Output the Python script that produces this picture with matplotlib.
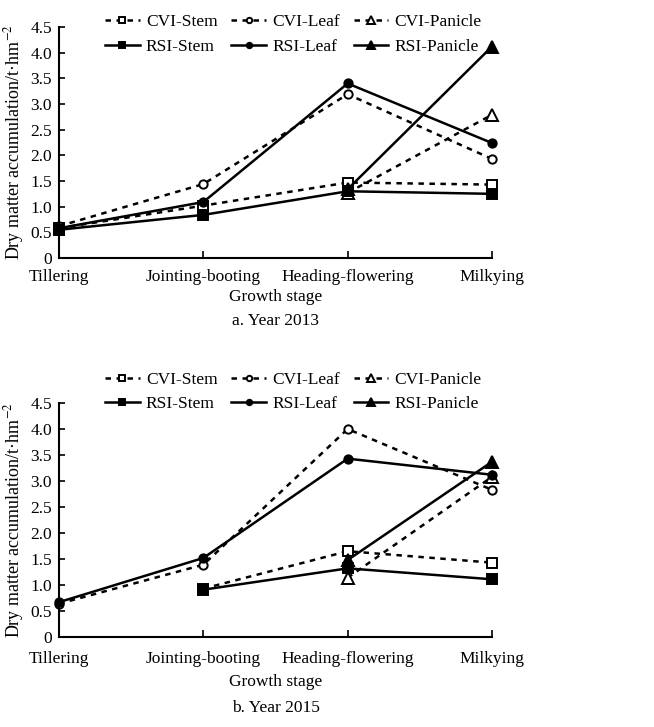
import matplotlib
matplotlib.use("Agg")
import matplotlib.pyplot as plt
import numpy as np

plt.rcParams['font.family'] = ['Liberation Serif', 'DejaVu Serif']
plt.rcParams['mathtext.fontset'] = 'stix'

stages = ["Tillering", "Jointing-booting", "Heading-flowering", "Milkying"]
yticks = [0, 0.5, 1.0, 1.5, 2.0, 2.5, 3.0, 3.5, 4.0, 4.5]
ytick_labels = ["0", "0.5", "1.0", "1.5", "2.0", "2.5", "3.0", "3.5", "4.0", "4.5"]

# Year 2013 (None = not measured at that stage)
cvi_stem_2013 = [0.58, 1.02, 1.47, 1.43]
cvi_leaf_2013 = [0.62, 1.44, 3.19, 1.93]
cvi_panicle_2013 = [None, None, 1.27, 2.79]
rsi_stem_2013 = [0.55, 0.84, 1.30, 1.25]
rsi_leaf_2013 = [0.58, 1.09, 3.40, 2.24]
rsi_panicle_2013 = [None, None, 1.34, 4.12]

# Year 2015
cvi_stem_2015 = [None, 0.93, 1.65, 1.43]
cvi_leaf_2015 = [0.64, 1.39, 4.00, 2.83]
cvi_panicle_2015 = [None, None, 1.14, 3.08]
rsi_stem_2015 = [None, 0.91, 1.32, 1.11]
rsi_leaf_2015 = [0.67, 1.52, 3.43, 3.12]
rsi_panicle_2015 = [None, None, 1.48, 3.37]

series_names = ["CVI-Stem", "CVI-Leaf", "CVI-Panicle", "RSI-Stem", "RSI-Leaf", "RSI-Panicle"]
dash = (0, (2.2, 2.2))
styles = [
    dict(ls=dash, marker='s', mfc='white', ms=7),
    dict(ls=dash, marker='o', mfc='white', ms=6),
    dict(ls=dash, marker='^', mfc='white', ms=8),
    dict(ls='-', marker='s', mfc='black', ms=7),
    dict(ls='-', marker='o', mfc='black', ms=6),
    dict(ls='-', marker='^', mfc='black', ms=8),
]

W, H = 654, 727


def draw_panel(ax, data, caption, bottom_px, height_px, tick_pad, xlabel_px, caption_px, legend_px):
    x = np.arange(len(stages))
    handles = []
    for name, vals, st in zip(series_names, data, styles):
        v = np.array([np.nan if d is None else d for d in vals], dtype=float)
        mask = ~np.isnan(v)
        h, = ax.plot(x[mask], v[mask], color='black', lw=1.8, mec='black',
                     mew=1.4, label=name, clip_on=False, **st)
        handles.append(h)

    ax.set_xlim(0, 3)
    ax.set_ylim(0, 4.5)
    ax.set_yticks(yticks)
    ax.set_yticklabels(ytick_labels)
    ax.set_xticks(x)
    ax.set_xticklabels(stages)
    ax.tick_params(axis='y', direction='in', length=4, width=1.2, labelsize=12.5, pad=5)
    ax.tick_params(axis='x', direction='in', length=5, width=1.2, labelsize=12.5, pad=tick_pad)
    for s in ['top', 'right']:
        ax.spines[s].set_visible(False)
    for s in ['left', 'bottom']:
        ax.spines[s].set_linewidth(1.5)

    ax.set_ylabel("Dry matter accumulation/t\u00b7hm$^{-2}$", fontsize=13)
    ax.yaxis.set_label_coords(-0.076, 0.5)

    # x label and caption placed by their pixel distance below the axis
    ax.set_xlabel("Growth stage", fontsize=12.5)
    ax.xaxis.label.set_va('center')
    ax.xaxis.set_label_coords(0.5, -(xlabel_px - bottom_px) / height_px)
    ax.text(0.5, -(caption_px - bottom_px) / height_px, caption, transform=ax.transAxes,
            ha='center', va='center', fontsize=12.5)

    # legend is filled column by column: CVI on the first row, RSI on the second
    order = [0, 3, 1, 4, 2, 5]
    ax.legend(handles=[handles[i] for i in order], ncol=3, loc='center left',
              bbox_to_anchor=(105 / W, 1 - legend_px / H), bbox_transform=ax.figure.transFigure,
              frameon=False, fontsize=12.5, handlelength=2.0, columnspacing=0.8,
              labelspacing=0.5, handletextpad=0.35, markerscale=0.65, borderpad=0,
              borderaxespad=0)


fig = plt.figure(figsize=(W / 100, H / 100), dpi=100)
ax1 = fig.add_axes([59 / W, 1 - 258 / H, 433 / W, 231 / H])
ax2 = fig.add_axes([59 / W, 1 - 637 / H, 433 / W, 234 / H])

draw_panel(ax1, [cvi_stem_2013, cvi_leaf_2013, cvi_panicle_2013,
                 rsi_stem_2013, rsi_leaf_2013, rsi_panicle_2013], "a. Year 2013",
           258, 231, 8, 297, 321, 34.5)
draw_panel(ax2, [cvi_stem_2015, cvi_leaf_2015, cvi_panicle_2015,
                 rsi_stem_2015, rsi_leaf_2015, rsi_panicle_2015], "b. Year 2015",
           637, 234, 10, 682, 708, 392)

fig.savefig("out.png", dpi=100)
